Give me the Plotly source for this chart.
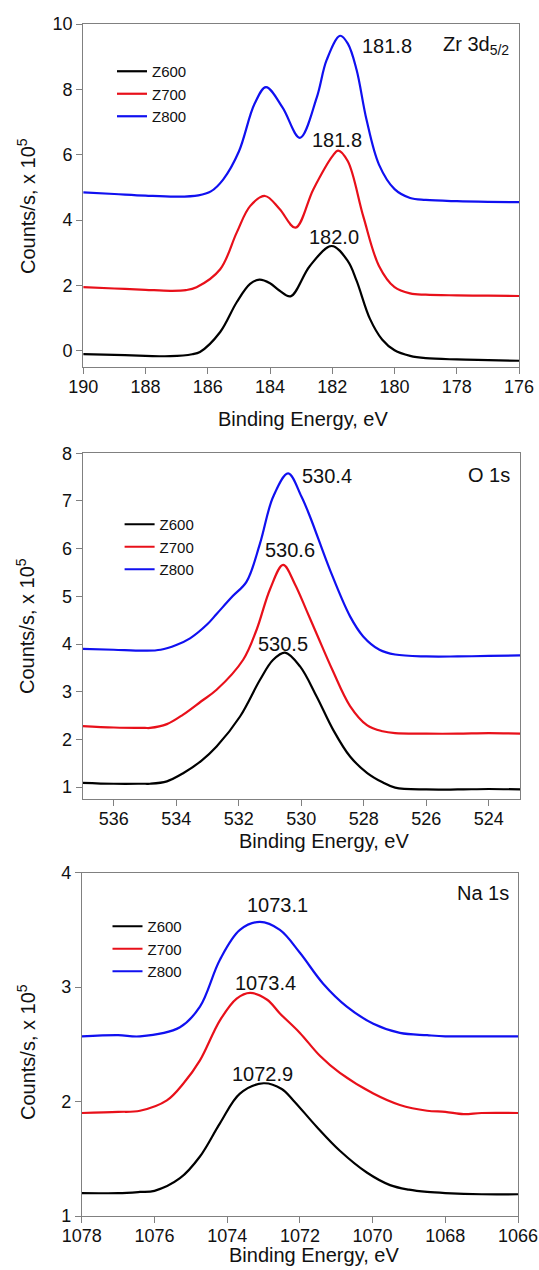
import plotly.graph_objects as go

W, H = 539, 1270

# ---------------- data ----------------
series_names = ["Z600", "Z700", "Z800"]
series_colors = ["#000000", "#e8101a", "#1010f0"]

# Panel 1: Zr 3d5/2
zr_x600 = [190, 189, 188, 187.2, 186.5, 186.25, 185.6, 185.07, 184.64, 184.34, 184.0, 183.7, 183.34, 182.72, 182.02, 181.5, 181.22, 180.79, 180.4, 180, 179.5, 179, 178, 177, 176]
zr_y600 = [-0.10, -0.12, -0.15, -0.16, -0.10, -0.03, 0.58, 1.49, 2.05, 2.18, 2.07, 1.85, 1.67, 2.60, 3.21, 2.75, 2.15, 0.98, 0.35, 0.02, -0.15, -0.22, -0.26, -0.28, -0.30]
zr_x700 = [190, 189, 188, 187.2, 186.7, 186.36, 185.6, 185.07, 184.64, 184.16, 183.7, 183.18, 182.61, 182.0, 181.81, 181.5, 181, 180.5, 180, 179.5, 179, 178, 177, 176]
zr_y700 = [1.95, 1.91, 1.87, 1.84, 1.86, 1.95, 2.50, 3.62, 4.43, 4.74, 4.35, 3.77, 4.94, 5.95, 6.13, 5.80, 4.10, 2.60, 1.95, 1.76, 1.72, 1.70, 1.69, 1.68]
zr_x800 = [190, 189, 188, 187, 186.3, 185.9, 185.5, 185.0, 184.5, 184.13, 183.6, 183.04, 182.5, 182.18, 181.75, 181.5, 181.22, 180.9, 180.5, 180, 179.5, 179, 178, 177, 176]
zr_y800 = [4.85, 4.80, 4.75, 4.72, 4.76, 4.88, 5.25, 6.10, 7.55, 8.07, 7.45, 6.52, 7.75, 8.90, 9.64, 9.40, 8.60, 7.07, 5.70, 4.95, 4.68, 4.62, 4.58, 4.56, 4.55]

# Panel 2: O 1s
o_x600 = [537, 536, 535, 534.84, 534.3, 533.78, 533.2, 532.71, 531.96, 531.32, 530.9, 530.52, 530.04, 529.51, 528.98, 528.44, 527.9, 527.4, 527, 526, 525, 524, 523]
o_y600 = [1.09, 1.07, 1.07, 1.07, 1.12, 1.29, 1.55, 1.85, 2.48, 3.25, 3.67, 3.82, 3.53, 2.90, 2.20, 1.64, 1.30, 1.10, 0.99, 0.95, 0.95, 0.96, 0.95]
o_x700 = [537, 536, 535, 534.84, 534.3, 533.78, 533.2, 532.71, 531.86, 531.43, 531.0, 530.58, 530.2, 529.83, 529.5, 529.0, 528.44, 527.9, 527.4, 527, 526, 525, 524, 523]
o_y700 = [2.28, 2.25, 2.24, 2.24, 2.32, 2.52, 2.80, 3.04, 3.67, 4.30, 5.15, 5.66, 5.25, 4.70, 4.20, 3.45, 2.70, 2.30, 2.17, 2.13, 2.12, 2.12, 2.13, 2.12]
o_x800 = [537, 536, 535, 534.5, 534, 533.56, 533, 532.71, 532.2, 531.75, 531.32, 530.9, 530.42, 530.0, 529.72, 529.08, 528.44, 528.02, 527.5, 527, 526, 525, 524, 523]
o_y800 = [3.90, 3.88, 3.86, 3.88, 3.98, 4.12, 4.42, 4.63, 5.00, 5.31, 6.11, 7.09, 7.58, 7.10, 6.67, 5.55, 4.58, 4.16, 3.88, 3.78, 3.74, 3.74, 3.75, 3.76]

# Panel 3: Na 1s
na_x600 = [1078, 1077, 1076.4, 1076, 1075.3, 1074.75, 1074.2, 1073.65, 1073.0, 1072.5, 1072.18, 1071.54, 1070.9, 1070.16, 1069.52, 1069, 1068.5, 1068, 1067, 1066]
na_y600 = [1.20, 1.20, 1.21, 1.22, 1.33, 1.52, 1.81, 2.07, 2.16, 2.11, 2.01, 1.78, 1.57, 1.38, 1.27, 1.23, 1.21, 1.20, 1.19, 1.19]
na_x700 = [1078, 1077, 1076.4, 1075.66, 1075.2, 1074.75, 1074.2, 1073.74, 1073.37, 1072.9, 1072.55, 1072, 1071.45, 1070.9, 1069.98, 1069.25, 1068.5, 1068, 1067.5, 1067, 1066]
na_y700 = [1.90, 1.91, 1.92, 2.01, 2.16, 2.36, 2.71, 2.90, 2.95, 2.89, 2.77, 2.60, 2.40, 2.25, 2.07, 1.97, 1.92, 1.91, 1.89, 1.90, 1.90]
na_x800 = [1078, 1077, 1076.4, 1075.3, 1074.75, 1074.2, 1073.65, 1073.1, 1072.55, 1072.0, 1071.36, 1070.71, 1069.98, 1069.25, 1068.5, 1068, 1067, 1066]
na_y800 = [2.57, 2.58, 2.57, 2.65, 2.83, 3.24, 3.50, 3.57, 3.50, 3.30, 3.03, 2.83, 2.68, 2.60, 2.58, 2.57, 2.57, 2.57]

peak_labels = [["182.0", "181.8", "181.8"], ["530.5", "530.6", "530.4"], ["1072.9", "1073.4", "1073.1"]]
panel_labels = ["Zr 3d<sub>5/2</sub>", "O 1s", "Na 1s"]
x_ranges = [[190, 176], [537, 523], [1078, 1066]]
y_ranges = [[-0.5, 10], [0.75, 8], [1, 4]]
y_dticks = [2, 1, 1]
x_title = "Binding Energy, eV"
y_title = "Counts/s, x 10<sup>5</sup>"

panels = [
    [(zr_x600, zr_y600), (zr_x700, zr_y700), (zr_x800, zr_y800)],
    [(o_x600, o_y600), (o_x700, o_y700), (o_x800, o_y800)],
    [(na_x600, na_y600), (na_x700, na_y700), (na_x800, na_y800)],
]

# ---------------- layout helpers (pixel -> paper) ----------------
def px(x):
    return x / W

def py(y):
    return 1 - y / H

# plot-area boxes in pixels: left, right, top, bottom
boxes = [(83.2, 519.1, 24, 367.3), (82.5, 520.1, 453.3, 799), (81.8, 518, 872.7, 1216)]
legend_pos = [(112, 55), (119.6, 508), (107.5, 910)]
xtitle_pos = [(302.5, 419), (324, 841), (313.7, 1255)]
ytitle_pos = [(26, 206), (26, 626), (26, 1052)]
# annotation pixel positions: [Z600, Z700, Z800], panel label
peak_pos = [
    [(334, 237), (337, 140), (386.7, 46)],
    [(283.3, 643.5), (289.5, 550), (326.7, 476)],
    [(262.7, 1074), (265.5, 983), (277, 905)],
]
label_pos = [(476, 45), (488.5, 475), (483.3, 893)]

FONT = "Arial, Liberation Sans, sans-serif"
AXC = "#808080"
TXT = "#111111"

fig = go.Figure()
annotations = []
layout = dict(
    width=W, height=H,
    margin=dict(l=0, r=0, t=0, b=0, autoexpand=False),
    paper_bgcolor="white", plot_bgcolor="white",
    font=dict(family=FONT, size=18, color=TXT),
)

def ann(text, x, y, size, angle=0):
    return dict(text=text, x=px(x), y=py(y), xref="paper", yref="paper",
                xanchor="center", yanchor="middle", showarrow=False,
                textangle=angle, font=dict(size=size, color=TXT))

for p in range(3):
    sfx = "" if p == 0 else str(p + 1)
    xa, ya = "x" + sfx, "y" + sfx
    lg = "legend" + sfx
    for s in range(3):
        xs, ys = panels[p][s]
        fig.add_trace(go.Scatter(
            x=xs, y=ys, mode="lines", name=series_names[s],
            line=dict(color=series_colors[s], width=2.2, shape="spline", smoothing=1.0),
            xaxis=xa, yaxis=ya, legend=lg, showlegend=True,
        ))
    l, r, t, b = boxes[p]
    common = dict(ticks="outside", ticklen=6, tickwidth=1, tickcolor=AXC,
                  showline=True, linecolor=AXC, linewidth=1, mirror=True,
                  showgrid=False, zeroline=False, automargin=False,
                  tickfont=dict(size=18, color=TXT))
    layout["xaxis" + sfx] = dict(domain=[px(l), px(r)], range=x_ranges[p], anchor=ya, dtick=2,
                                 ticklabelstandoff=-3, **common)
    layout["yaxis" + sfx] = dict(domain=[py(b), py(t)], range=y_ranges[p], anchor=xa,
                                 dtick=y_dticks[p], **common)
    lx, ly = legend_pos[p]
    layout[lg] = dict(
        x=px(lx), y=py(ly), xanchor="left", yanchor="top",
        bgcolor="rgba(0,0,0,0)", borderwidth=0,
        font=dict(size=15, color=TXT), tracegroupgap=0, itemwidth=30,
    )
    tx, ty = xtitle_pos[p]
    annotations.append(ann(x_title, tx, ty, 20))
    yx, yy = ytitle_pos[p]
    annotations.append(ann(y_title, yx, yy, 20, -90))
    for s in range(3):
        ax_, ay_ = peak_pos[p][s]
        annotations.append(ann(peak_labels[p][s], ax_, ay_, 20))
    qx, qy = label_pos[p]
    annotations.append(ann(panel_labels[p], qx, qy, 20))

layout["annotations"] = annotations
fig.update_layout(**layout)
# remove the default page margin so the figure sits at the window's top-left corner
fig.write_html("out.html", config={"displayModeBar": False},
               post_script="document.body.style.margin='0';document.body.style.overflow='hidden';")
